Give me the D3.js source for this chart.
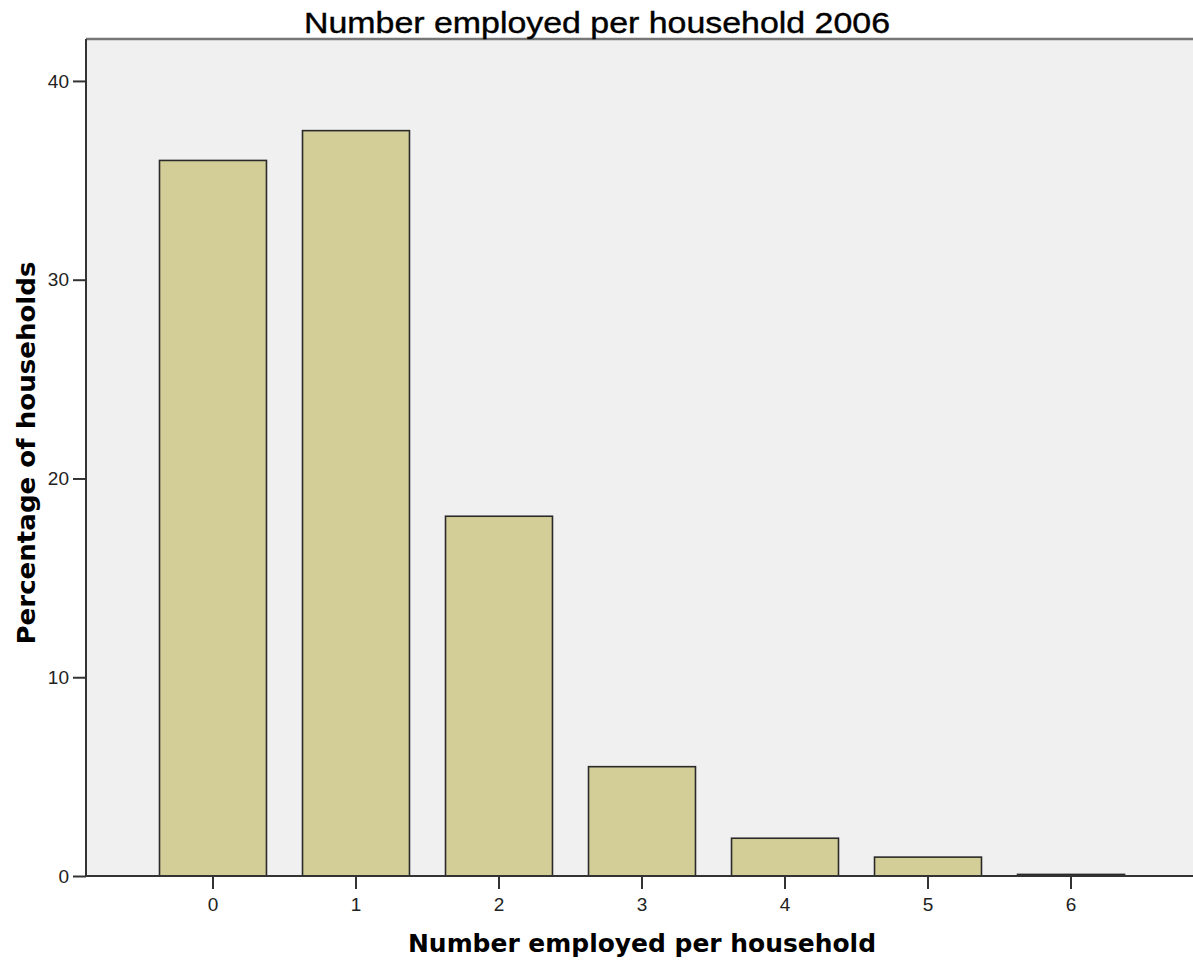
<!DOCTYPE html>
<html><head><meta charset="utf-8">
<script src="https://cdn.jsdelivr.net/npm/d3@7"></script>
<style>body{margin:0;background:#fff;}svg{display:block;}</style>
</head><body>
<script>
const categories = ["0","1","2","3","4","5","6"];
const values = [36.0, 37.5, 18.1, 5.5, 1.9, 0.95, 0.08];
const yTicks = [0,10,20,30,40];
const title = "Number employed per household 2006";
const xTitle = "Number employed per household";
const yTitle = "Percentage of households";

const W = 1193, H = 964;
const m = {left:86, top:39, right:-5, bottom:88};
const svg = d3.select("body").append("svg").attr("width",W).attr("height",H);
const pw = W - m.left - m.right, ph = H - m.top - m.bottom;
const g = svg.append("g").attr("transform",`translate(${m.left},${m.top})`);

const x = d3.scaleBand().domain(categories).range([0,pw]).paddingInner(0.252).paddingOuter(0.514);
const y = d3.scaleLinear().domain([0,42.11]).range([ph,0]);

g.append("rect").attr("width",pw).attr("height",ph).attr("fill","#f0f0f0");

g.selectAll(".bar").data(values).join("rect")
  .attr("x",(d,i)=>x(categories[i])).attr("width",x.bandwidth())
  .attr("y",d=>y(d)).attr("height",d=>ph-y(d))
  .attr("fill","#d3ce97").attr("stroke","#2a2a2a").attr("stroke-width",1.6);

// frame
g.append("line").attr("x1",0).attr("x2",pw).attr("y1",0).attr("y2",0).attr("stroke","#777").attr("stroke-width",2.5);
g.append("line").attr("x1",0).attr("x2",0).attr("y1",0).attr("y2",ph).attr("stroke","#333").attr("stroke-width",2);
g.append("line").attr("x1",0).attr("x2",pw).attr("y1",ph).attr("y2",ph).attr("stroke","#333").attr("stroke-width",2);

const ya = g.append("g").call(d3.axisLeft(y).tickValues(yTicks).tickSize(13).tickPadding(4).tickFormat(d3.format("d")));
ya.select(".domain").remove();
ya.selectAll("line").attr("stroke","#333").attr("stroke-width",2);
ya.selectAll("text").attr("font-family","Liberation Sans, Arial, sans-serif").attr("font-size",19).attr("fill","#222");

const xa = g.append("g").attr("transform",`translate(0,${ph})`).call(d3.axisBottom(x).tickSize(13).tickPadding(9));
xa.select(".domain").remove();
xa.selectAll("line").attr("stroke","#333").attr("stroke-width",2);
xa.selectAll("text").attr("font-family","Liberation Sans, Arial, sans-serif").attr("font-size",19).attr("fill","#222");

svg.append("text").attr("x",597).attr("y",33).attr("text-anchor","middle")
  .attr("font-family","Liberation Sans, Arial, sans-serif").attr("font-size",30).attr("fill","#000")
  .attr("stroke","#000").attr("stroke-width",0.4)
  .attr("textLength",586).attr("lengthAdjust","spacingAndGlyphs").text(title);
svg.append("text").attr("x",642).attr("y",952).attr("text-anchor","middle")
  .attr("font-family","DejaVu Sans, sans-serif").attr("font-weight","bold").attr("font-size",25).attr("fill","#000")
  .attr("textLength",468).attr("lengthAdjust","spacingAndGlyphs").text(xTitle);
svg.append("text").attr("transform","translate(35,453) rotate(-90)").attr("text-anchor","middle")
  .attr("font-family","DejaVu Sans, sans-serif").attr("font-weight","bold").attr("font-size",25).attr("fill","#000")
  .attr("textLength",383).attr("lengthAdjust","spacingAndGlyphs").text(yTitle);
</script>
</body></html>
